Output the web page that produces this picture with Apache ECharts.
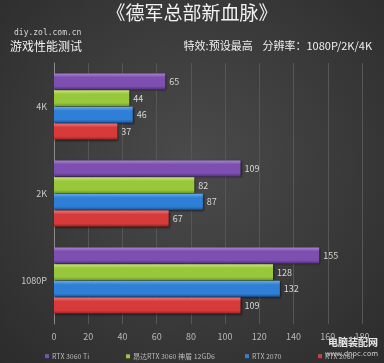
<!DOCTYPE html>
<html>
<head>
<meta charset="utf-8">
<script src="https://cdn.jsdelivr.net/npm/echarts@6/dist/echarts.min.js"></script>
<style>
  html, body { margin: 0; padding: 0; background: #333; }
  #chart { width: 384px; height: 363px; }
</style>
</head>
<body>
<div id="chart"></div>
<script>
const categories = ["1080P", "2K", "4K"];
const seriesNames = ["RTX 3060 Ti", "昂达RTX 3060 神盾 12GD6", "RTX 2070", "RTX 2060"];
const rtx3060ti = [155, 109, 65];
const onda3060 = [128, 82, 44];
const rtx2070 = [132, 87, 46];
const rtx2060 = [109, 67, 37];
const xTicks = [0, 20, 40, 60, 80, 100, 120, 140, 160, 180];

const font = '"Noto Sans CJK SC", "Noto Sans", sans-serif';

// light / base / dark for the glossy bars
const palette = [
  ["#a983d4", "#7c4fb0", "#55307f"],
  ["#c8e878", "#99c73b", "#6c9a1d"],
  ["#66a9ee", "#2e7fd5", "#1b569c"],
  ["#f07474", "#d73a3a", "#a02222"],
];

function gloss(c) {
  return {
    type: "linear", x: 0, y: 0, x2: 0, y2: 1,
    colorStops: [
      { offset: 0, color: c[0] },
      { offset: 0.25, color: c[1] },
      { offset: 0.8, color: c[1] },
      { offset: 1, color: c[2] },
    ],
  };
}

const values = [rtx3060ti, onda3060, rtx2070, rtx2060];
const legendLeft = [40, 121, 240, 313];

const chart = echarts.init(document.getElementById("chart"));

chart.setOption({
  backgroundColor: {
    type: "radial", x: 0.5, y: 0.45, r: 0.8,
    colorStops: [
      { offset: 0, color: "#4b4b4b" },
      { offset: 1, color: "#2a2a2a" },
    ],
  },
  animation: false,
  graphic: [
    {
      type: "text", left: "center", top: 3,
      style: { text: "《德军总部新血脉》", fill: "#f2f2f2", font: "19px " + font },
    },
    {
      type: "text", left: 14, top: 29,
      style: { text: "diy.zol.com.cn", fill: "#d8d8d8", font: "8px 'DejaVu Sans Mono'" },
    },
    {
      type: "text", left: 10, top: 40,
      style: { text: "游戏性能测试", fill: "#f0f0f0", font: "12px " + font },
    },
    {
      type: "text", right: 12, top: 40,
      style: { text: "特效:预设最高    分辨率：1080P/2K/4K", fill: "#f0f0f0", font: "11px " + font },
    },
    {
      type: "text", right: 6, top: 337,
      style: { text: "电脑装配网", fill: "#e8e8e8", font: "bold 10px " + font },
    },
    {
      type: "text", right: 6, top: 351,
      style: { text: "www.dnpc.com", fill: "#d0d0d0", font: "7px 'DejaVu Sans'" },
    },
  ],
  legend: seriesNames.map((name, i) => ({
    data: [name],
    left: legendLeft[i],
    top: 348,
    itemWidth: 4,
    itemHeight: 4,
    itemGap: 2,
    icon: "rect",
    textStyle: { color: "#b8b8b8", fontSize: 7, fontFamily: font, padding: [0, 0, 0, -2] },
  })),
  grid: { left: 54, right: 22, top: 63, bottom: 39 },
  xAxis: {
    type: "value",
    min: 0,
    max: 180,
    interval: 20,
    axisLine: { show: false },
    axisTick: { show: false },
    axisLabel: { color: "#b8b8b8", fontSize: 9, fontFamily: font, margin: 8 },
    splitLine: { lineStyle: { color: "#565656", width: 1 } },
  },
  yAxis: {
    type: "category",
    data: categories,
    axisLine: { show: true, lineStyle: { color: "#8a8a8a" } },
    axisTick: { show: false },
    axisLabel: { color: "#c8c8c8", fontSize: 9, fontFamily: font, margin: 7 },
  },
  series: seriesNames.map((name, i) => ({
    name,
    type: "bar",
    data: values[i],
    barGap: "4%",
    barCategoryGap: "24%",
    itemStyle: {
      color: gloss(palette[i]),
      shadowColor: "rgba(0,0,0,0.5)",
      shadowBlur: 2,
      shadowOffsetX: 1,
      shadowOffsetY: 1,
    },
    label: {
      show: true,
      position: "right",
      distance: 4,
      color: "#d8d8d8",
      fontSize: 9,
      fontFamily: font,
    },
  })),
});
</script>
</body>
</html>
